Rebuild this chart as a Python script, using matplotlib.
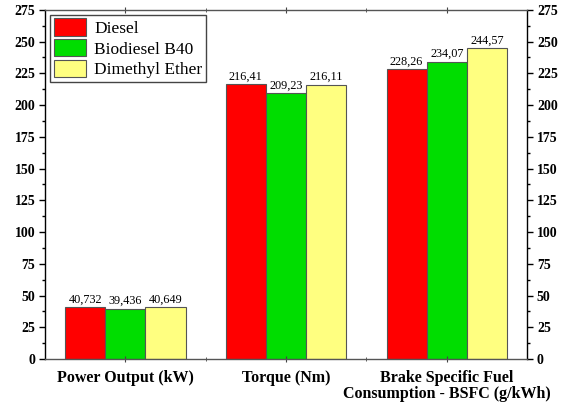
import matplotlib
matplotlib.use("Agg")
import matplotlib.pyplot as plt
import numpy as np
from matplotlib.ticker import MultipleLocator

categories = ["Power Output (kW)", "Torque (Nm)", "Brake Specific Fuel\nConsumption - BSFC (g/kWh)"]
series_names = ["Diesel", "Biodiesel B40", "Dimethyl Ether"]
diesel = [40.732, 216.41, 228.26]
biodiesel = [39.436, 209.23, 234.07]
dme = [40.649, 216.11, 244.57]
diesel_labels = ["40,732", "216,41", "228,26"]
biodiesel_labels = ["39,436", "209,23", "234,07"]
dme_labels = ["40,649", "216,11", "244,57"]
y_ticks = list(range(0, 276, 25))

colors = ["#FF0000", "#00DD00", "#FFFF80"]
serif = ["Liberation Serif", "DejaVu Serif"]

fig = plt.figure(figsize=(5.73, 4.09), dpi=100)
ax = fig.add_axes([0.0785, 0.122, 0.8415, 0.854])

x = np.arange(len(categories))
w = 0.25
all_vals = [diesel, biodiesel, dme]
all_labels = [diesel_labels, biodiesel_labels, dme_labels]
for i, (vals, labs, name, c) in enumerate(zip(all_vals, all_labels, series_names, colors)):
    bars = ax.bar(x + (i - 1) * w, vals, w, color=c, edgecolor="#555555", linewidth=0.8, label=name)
    for b, lab in zip(bars, labs):
        ax.text(b.get_x() + b.get_width() / 2, b.get_height() + 1.5, lab,
                ha="center", va="bottom", fontsize=8.8, family=serif)

ax.set_xlim(-0.5, 2.5)
ax.set_ylim(0, 275)
ax.set_yticks(y_ticks)
ax.yaxis.set_minor_locator(MultipleLocator(12.5))
ax.set_xticks(x)
ax.set_xticks([0.5, 1.5], minor=True)
ax.set_xticklabels(categories, fontsize=11.5, fontweight="bold", family=serif, linespacing=1.05)

ax.tick_params(axis="y", which="both", left=True, right=True, labelleft=True, labelright=True,
               direction="out", labelsize=10, width=1)
ax.tick_params(axis="y", which="major", length=4, pad=3)
ax.tick_params(axis="y", which="minor", length=2.5)
ax.tick_params(axis="x", which="major", bottom=True, top=True, direction="inout", length=5, pad=5, color="#444444")
ax.tick_params(axis="x", which="minor", bottom=True, top=True, direction="inout", length=3, color="#444444")
for lab in ax.get_yticklabels():
    lab.set_fontweight("bold")
    lab.set_family(serif)

for s in ["left", "right"]:
    ax.spines[s].set_color("black")
    ax.spines[s].set_linewidth(1.0)
for s in ["top", "bottom"]:
    ax.spines[s].set_color("#555555")
    ax.spines[s].set_linewidth(1.0)

leg = ax.legend(loc="upper left", bbox_to_anchor=(0.0, 1.0), prop={"family": serif, "size": 12.5},
                fancybox=False, framealpha=1, edgecolor="#444444", borderpad=0.2,
                handlelength=1.85, handleheight=1.15, handletextpad=0.5, labelspacing=0.12,
                borderaxespad=0.3)
leg.get_frame().set_linewidth(1.0)

fig.savefig("out.png", dpi=100)
